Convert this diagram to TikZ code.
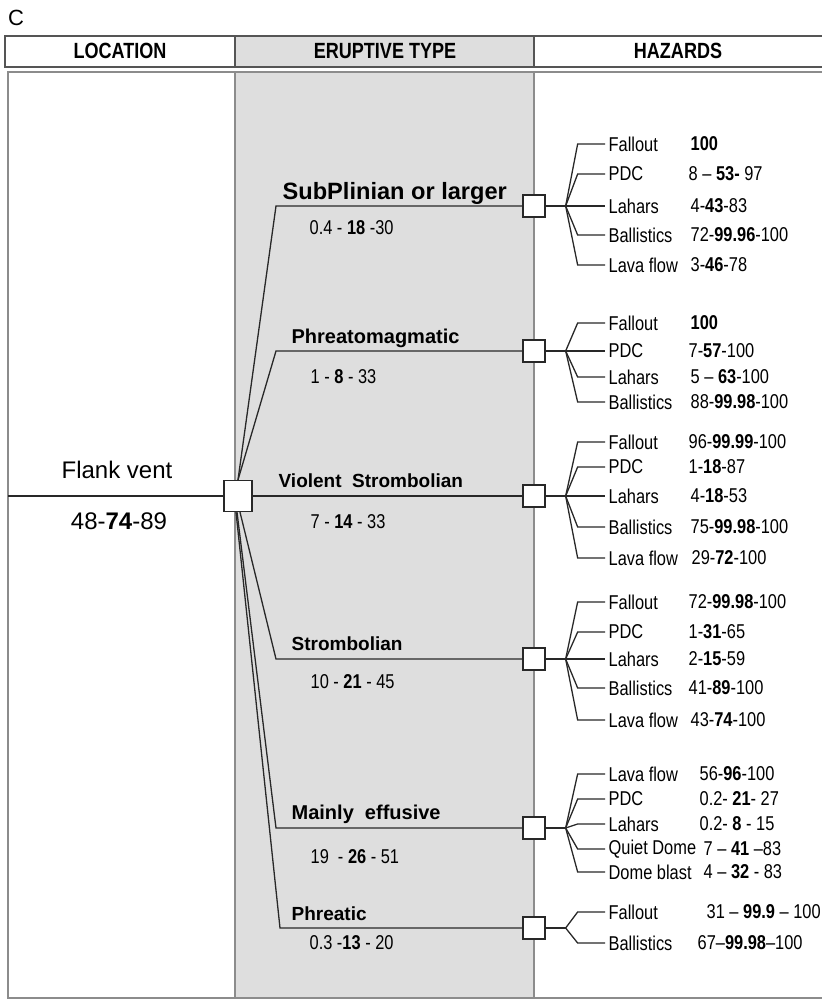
\documentclass[tikz,border=0pt]{standalone}
\usepackage{fontspec}
\setmainfont{Liberation Sans}
\newfontfamily\narrowfont[FakeStretch=0.82]{Liberation Sans}
\usetikzlibrary{positioning}
\definecolor{col_gray}{RGB}{222,222,222}
\definecolor{edge_gray}{RGB}{140,140,140}
\definecolor{head_gray}{RGB}{85,85,85}
\definecolor{line_dark}{RGB}{40,40,40}

\begin{document}
\begin{tikzpicture}[x=0.5pt,y=-0.5pt,line width=0.65pt]
    \tikzstyle{header}=[font=\narrowfont\fontsize{11}{12}\selectfont\bfseries,text=black]
    \tikzstyle{cell}=[draw=edge_gray,line width=0.7pt]
    \tikzstyle{branch}=[draw=line_dark]
    \tikzstyle{ventbox}=[draw=line_dark,fill=white,minimum width=14pt,minimum height=15.5pt,inner sep=0pt]
    \tikzstyle{typebox}=[draw=line_dark,fill=white,minimum size=11pt,inner sep=0pt]
    \tikzstyle{etype}=[font=\fontsize{9.5}{11}\selectfont\bfseries,anchor=base west,inner sep=0pt]
    \tikzstyle{eprob}=[font=\narrowfont\fontsize{10}{11}\selectfont,anchor=base west,inner sep=0pt]
    \tikzstyle{hazard}=[font=\narrowfont\fontsize{10}{11}\selectfont,anchor=west,inner sep=1.5pt]
    \tikzstyle{hprob}=[style=hazard,inner sep=0pt]
    \useasboundingbox (0,0) rectangle (821,1001);

    % columns
    \fill[col_gray] (235,36) rectangle (534,67);
    \fill[col_gray] (235,72) rectangle (534,998);
    \draw[cell] (8,72) rectangle (235,998);
    \draw[cell] (235,72) rectangle (534,998);
    \draw[cell] (534,72) rectangle (830,998);
    \draw[head_gray,line width=1pt] (5,36) rectangle (830,67) (235,36) -- (235,67) (534,36) -- (534,67);
    \node[font=\fontsize{11}{13}\selectfont] (panel) at (16,18) {C};
    \node[header] (hloc) at (120,51) {LOCATION};
    \node[header] (htype) at (385,51) {ERUPTIVE TYPE};
    \node[header] (hhaz) at (678,51) {HAZARDS};

    % location
    \node[ventbox] (vent) at (238,496) {};
    \coordinate (ventin) at (8,496);
    \node[font=\fontsize{12}{14}\selectfont] (ventname) at (117,470) {Flank vent};
    \node[font=\fontsize{12}{14}\selectfont] (ventprob) at (119,521) {48-\textbf{74}-89};
    \draw[branch] (ventin) -- (vent);

    % eruptive types
    \coordinate (sub_c) at (276,206);
    \coordinate (phm_c) at (276,351);
    \coordinate (str_c) at (276,659);
    \coordinate (eff_c) at (276,828);
    \coordinate (phr_c) at (280,928);
    \node[typebox] (sub) at (534,206) {};
    \node[typebox] (phm) at (534,351) {};
    \node[typebox] (vst) at (534,496) {};
    \node[typebox] (str) at (534,659) {};
    \node[typebox] (eff) at (534,828) {};
    \node[typebox] (phr) at (534,928) {};
    \draw[branch] (vent.north) -- (sub_c) -- (sub);
    \draw[branch] (vent.north) -- (phm_c) -- (phm);
    \draw[branch] (vent) -- (vst);
    \draw[branch] ([xshift=1pt]vent.south) -- (str_c) -- (str);
    \draw[branch] ([xshift=-0.5pt]vent.south) -- (eff_c) -- (eff);
    \draw[branch] ([xshift=-1pt]vent.south) -- (phr_c) -- (phr);

    \node[etype,font=\fontsize{11.8}{13}\selectfont\bfseries] (sub_l) at (282,199) {SubPlinian or larger};
    \node[etype,font=\fontsize{10}{12}\selectfont\bfseries] (phm_l) at (291,343) {Phreatomagmatic};
    \node[etype] (vst_l) at (278,487) {Violent\ \ Strombolian};
    \node[etype] (str_l) at (291,650) {Strombolian};
    \node[etype,font=\fontsize{10}{12}\selectfont\bfseries] (eff_l) at (291,819) {Mainly\ \ effusive};
    \node[etype] (phr_l) at (291,920) {Phreatic};
    \node[eprob] (sub_p) at (309,234) {0.4 - \textbf{18} -30};
    \node[eprob] (phm_p) at (310,383) {1 - \textbf{8} - 33};
    \node[eprob] (vst_p) at (310,528) {7 - \textbf{14} - 33};
    \node[eprob] (str_p) at (310,688) {10 - \textbf{21} - 45};
    \node[eprob] (eff_p) at (310,863) {19\ \ - \textbf{26} - 51};
    \node[eprob] (phr_p) at (309,949) {0.3 -\textbf{13} - 20};

    % hazards: junctions
    \coordinate[right=10pt of sub] (sub_j);
    \coordinate[right=10pt of phm] (phm_j);
    \coordinate[right=10pt of vst] (vst_j);
    \coordinate[right=10pt of str] (str_j);
    \coordinate[right=10pt of eff] (eff_j);
    \coordinate[right=10pt of phr] (phr_j);
    \draw[branch] (sub) -- (sub_j) (phm) -- (phm_j) (vst) -- (vst_j)
                  (str) -- (str_j) (eff) -- (eff_j) (phr) -- (phr_j);

    % subplinian
    \node[hazard] (sub1) at (605,144) {Fallout};
    \node[hazard] (sub2) at (605,174) {PDC};
    \node[hazard] (sub3) at (605,206) {Lahars};
    \node[hazard] (sub4) at (605,235) {Ballistics};
    \node[hazard] (sub5) at (605,265) {Lava flow};
    \node[hprob] at (690,144) {\textbf{100}};
    \node[hprob] at (688,174) {8 – \textbf{53-} 97};
    \node[hprob] at (690,206) {4-\textbf{43}-83};
    \node[hprob] at (690,235) {72-\textbf{99.96}-100};
    \node[hprob] at (690,265) {3-\textbf{46}-78};
    % phreatomagmatic
    \node[hazard] (phm1) at (605,323) {Fallout};
    \node[hazard] (phm2) at (605,351) {PDC};
    \node[hazard] (phm3) at (605,377) {Lahars};
    \node[hazard] (phm4) at (605,402) {Ballistics};
    \node[hprob] at (690,323) {\textbf{100}};
    \node[hprob] at (688,351) {7-\textbf{57}-100};
    \node[hprob] at (690,377) {5 – \textbf{63}-100};
    \node[hprob] at (690,402) {88-\textbf{99.98}-100};
    % violent strombolian
    \node[hazard] (vst1) at (605,442) {Fallout};
    \node[hazard] (vst2) at (605,467) {PDC};
    \node[hazard] (vst3) at (605,496) {Lahars};
    \node[hazard] (vst4) at (605,527) {Ballistics};
    \node[hazard] (vst5) at (605,558) {Lava flow};
    \node[hprob] at (688,442) {96-\textbf{99.99}-100};
    \node[hprob] at (688,467) {1-\textbf{18}-87};
    \node[hprob] at (690,496) {4-\textbf{18}-53};
    \node[hprob] at (690,527) {75-\textbf{99.98}-100};
    \node[hprob] at (691,558) {29-\textbf{72}-100};
    % strombolian
    \node[hazard] (str1) at (605,602) {Fallout};
    \node[hazard] (str2) at (605,632) {PDC};
    \node[hazard] (str3) at (605,659) {Lahars};
    \node[hazard] (str4) at (605,688) {Ballistics};
    \node[hazard] (str5) at (605,720) {Lava flow};
    \node[hprob] at (688,602) {72-\textbf{99.98}-100};
    \node[hprob] at (688,632) {1-\textbf{31}-65};
    \node[hprob] at (688,659) {2-\textbf{15}-59};
    \node[hprob] at (688,688) {41-\textbf{89}-100};
    \node[hprob] at (690,720) {43-\textbf{74}-100};
    % mainly effusive
    \node[hazard] (eff1) at (605,774) {Lava flow};
    \node[hazard] (eff2) at (605,799) {PDC};
    \node[hazard] (eff3) at (605,824) {Lahars};
    \node[hazard] (eff4) at (605,849) {Quiet Dome};
    \node[hazard] (eff5) at (605,872) {Dome blast};
    \node[hprob] at (699,774) {56-\textbf{96}-100};
    \node[hprob] at (699,799) {0.2- \textbf{21}- 27};
    \node[hprob] at (699,824) {0.2- \textbf{8} - 15};
    \node[hprob] at (703,849) {7 – \textbf{41} –83};
    \node[hprob] at (703,872) {4 – \textbf{32} - 83};
    % phreatic
    \node[hazard] (phr1) at (605,912) {Fallout};
    \node[hazard] (phr2) at (605,943) {Ballistics};
    \node[hprob] at (706,912) {31 – \textbf{99.9} – 100};
    \node[hprob] at (697,943) {67–\textbf{99.98}–100};

    % branches to hazards
    \foreach \g/\n in {sub/5,phm/4,vst/5,str/5,eff/5,phr/2}
      \foreach \i in {1,...,\n}
        \draw[branch] (\g_j) -- ([xshift=6pt]\g_j |- \g\i.west) -- (\g\i.west);
\end{tikzpicture}
\end{document}
